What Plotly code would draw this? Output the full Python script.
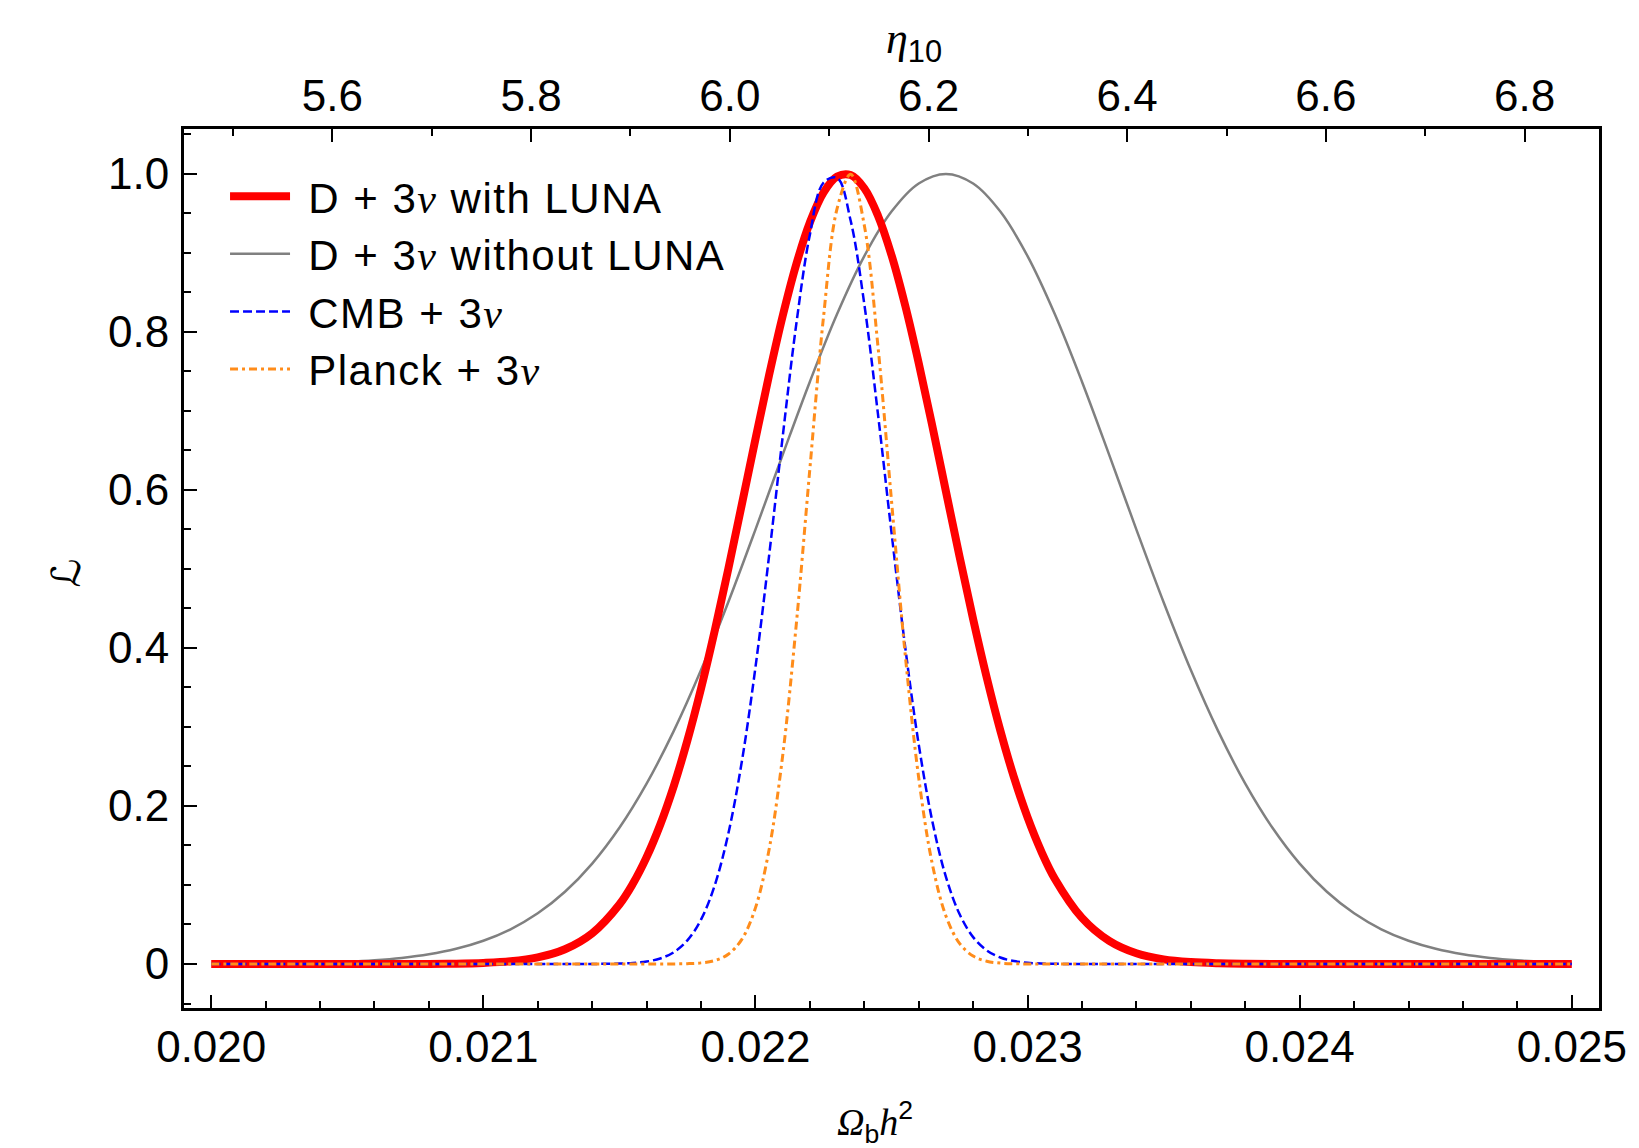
import plotly.graph_objects as go

# ---- data ----------------------------------------------------------------
# D + 3nu with LUNA
OMEGA_LUNA = [
    0.0200, 0.0202, 0.0204, 0.0206, 0.0208, 0.0209, 0.0210, 0.0211, 0.0212, 0.0213,
    0.0214, 0.0215, 0.02155, 0.0216, 0.02165, 0.0217, 0.02175, 0.0218, 0.02185, 0.0219,
    0.02195, 0.0220, 0.02205, 0.0221, 0.02215, 0.0222, 0.02225, 0.0223, 0.02235, 0.0224,
    0.02245, 0.0225, 0.02255, 0.0226, 0.02265, 0.0227, 0.02275, 0.0228, 0.02285, 0.0229,
    0.02295, 0.0230, 0.02305, 0.0231, 0.0232, 0.0233, 0.0234, 0.0235, 0.0236, 0.0237,
    0.0238, 0.0240, 0.0242, 0.0244, 0.0246, 0.0248, 0.0250,
]
L_LUNA = [
    0, 0, 0, 0, 0.0001, 0.0004, 0.0013, 0.0034, 0.0083, 0.0187,
    0.0389, 0.0754, 0.1019, 0.1353, 0.1763, 0.2254, 0.2830, 0.3485, 0.4212, 0.4996,
    0.5817, 0.6643, 0.7451, 0.8200, 0.8855, 0.9385, 0.9763, 0.9966, 0.9985, 0.9818,
    0.9474, 0.8972, 0.8339, 0.7606, 0.6809, 0.5982, 0.5158, 0.4365, 0.3625, 0.2954,
    0.2363, 0.1855, 0.1429, 0.1080, 0.0584, 0.0293, 0.0136, 0.0059, 0.0024, 0.0009,
    0.0003, 0, 0, 0, 0, 0, 0,
]

# D + 3nu without LUNA
OMEGA_NO_LUNA = [
    0.0200, 0.0201, 0.0202, 0.0203, 0.0204, 0.0205, 0.0206, 0.0207, 0.0208, 0.0209,
    0.0210, 0.0211, 0.0212, 0.0213, 0.0214, 0.0215, 0.0216, 0.0217, 0.0218, 0.0219,
    0.0220, 0.0221, 0.0222, 0.0223, 0.0224, 0.0225, 0.0226, 0.0227, 0.0228, 0.0229,
    0.0230, 0.0231, 0.0232, 0.0233, 0.0234, 0.0235, 0.0236, 0.0237, 0.0238, 0.0239,
    0.0240, 0.0241, 0.0242, 0.0243, 0.0244, 0.0245, 0.0246, 0.0247, 0.0248, 0.0249,
    0.0250,
]
L_NO_LUNA = [
    0.0001, 0.0003, 0.0005, 0.0009, 0.0016, 0.0027, 0.0046, 0.0076, 0.0122, 0.0192,
    0.0294, 0.0439, 0.0641, 0.0914, 0.1271, 0.1724, 0.2283, 0.2950, 0.3720, 0.4578,
    0.5498, 0.6444, 0.7370, 0.8226, 0.8959, 0.9523, 0.9879, 1.0000, 0.9879, 0.9523,
    0.8959, 0.8226, 0.7370, 0.6444, 0.5498, 0.4578, 0.3720, 0.2950, 0.2283, 0.1724,
    0.1271, 0.0914, 0.0641, 0.0439, 0.0294, 0.0192, 0.0122, 0.0076, 0.0046, 0.0027,
    0.0016,
]

# CMB + 3nu
OMEGA_CMB = [
    0.0200, 0.0205, 0.0210, 0.0213, 0.02135, 0.0214, 0.02145, 0.0215, 0.02155, 0.0216,
    0.02165, 0.0217, 0.02175, 0.0218, 0.02185, 0.0219, 0.02195, 0.0220, 0.02205, 0.0221,
    0.02215, 0.0222, 0.02225, 0.0223, 0.02235, 0.0224, 0.02245, 0.0225, 0.02255, 0.0226,
    0.02265, 0.0227, 0.02275, 0.0228, 0.02285, 0.0229, 0.02295, 0.0230, 0.02305, 0.0231,
    0.02315, 0.0232, 0.02325, 0.0233, 0.0236, 0.0240, 0.0245, 0.0250,
]
L_CMB = [
    0, 0, 0, 0, 0, 0.0001, 0.0002, 0.0005, 0.0013, 0.0031,
    0.0070, 0.0149, 0.0299, 0.0561, 0.0992, 0.1645, 0.2563, 0.3753, 0.5163, 0.6670,
    0.8096, 0.9231, 0.9888, 0.9950, 0.9406, 0.8353, 0.6968, 0.5461, 0.4020, 0.2780,
    0.1807, 0.1103, 0.0632, 0.0340, 0.0172, 0.0082, 0.0037, 0.0015, 0.0006, 0.0002,
    0.0001, 0, 0, 0, 0, 0, 0, 0,
]

# Planck + 3nu
OMEGA_PLANCK = [
    0.0200, 0.0205, 0.0210, 0.0214, 0.0216, 0.02165, 0.0217, 0.02175, 0.0218, 0.02185,
    0.0219, 0.02195, 0.0220, 0.02205, 0.0221, 0.02215, 0.0222, 0.02225, 0.0223, 0.02235,
    0.0224, 0.02245, 0.0225, 0.02255, 0.0226, 0.02265, 0.0227, 0.02275, 0.0228, 0.02285,
    0.0229, 0.02295, 0.0230, 0.02305, 0.0231, 0.0235, 0.0240, 0.0245, 0.0250,
]
L_PLANCK = [
    0, 0, 0, 0, 0, 0, 0.0001, 0.0004, 0.0014, 0.0043,
    0.0123, 0.0312, 0.0710, 0.1445, 0.2634, 0.4296, 0.6268, 0.8183, 0.9560, 0.9994,
    0.9350, 0.7827, 0.5863, 0.3930, 0.2357, 0.1265, 0.0608, 0.0261, 0.0100, 0.0035,
    0.0011, 0.0003, 0.0001, 0, 0, 0, 0, 0, 0,
]

X_TICKS = [0.020, 0.021, 0.022, 0.023, 0.024, 0.025]
Y_TICKS = [0, 0.2, 0.4, 0.6, 0.8, 1.0]
Y_TICK_TEXT = ["0", "0.2", "0.4", "0.6", "0.8", "1.0"]
ETA_TICKS = [5.6, 5.8, 6.0, 6.2, 6.4, 6.6, 6.8]
ETA_PER_OMEGA = 273.9  # eta_10 = 273.9 * Omega_b h^2

X_RANGE = [0.01990, 0.02510]
Y_RANGE = [-0.0557, 1.0568]

# ---- style -----------------------------------------------------------------
SANS = "Liberation Sans, Arial, Helvetica, sans-serif"
SERIF = "Liberation Serif, Times New Roman, serif"
TICK_FS = 44
LEG_FS = 42
NU = f'<span style="font-family:{SERIF}"><i>ν</i></span>'
PAD = "\u00a0"


def leg(label):
    # slightly widened legend text, like the Mathematica original
    return f'<span style="letter-spacing:1.5px">{PAD}{label}</span>'


AXIS_COMMON = dict(
    showline=True, linecolor="black", linewidth=3,
    ticks="inside", ticklen=13, tickwidth=2, tickcolor="black",
    showgrid=False, zeroline=False,
    tickfont=dict(family=SANS, size=TICK_FS, color="black"),
)
MINOR = dict(ticks="inside", ticklen=7, tickwidth=2, tickcolor="black", showgrid=False)

fig = go.Figure()

fig.add_trace(go.Scatter(
    x=OMEGA_NO_LUNA, y=L_NO_LUNA, mode="lines", name=leg(f"D + 3{NU} without LUNA"),
    line=dict(color="#808080", width=2.5, shape="spline", smoothing=1.0),
    legendrank=2, legendgroup="b",
))
fig.add_trace(go.Scatter(
    x=OMEGA_LUNA, y=L_LUNA, mode="lines", name=leg(f"D + 3{NU} with LUNA"),
    line=dict(color="#FF0000", width=8, shape="spline", smoothing=1.0),
    legendrank=1, legendgroup="a",
))
fig.add_trace(go.Scatter(
    x=OMEGA_CMB, y=L_CMB, mode="lines", name=leg(f"CMB + 3{NU}"),
    line=dict(color="#0000FF", width=2.5, dash="9px,4px", shape="spline", smoothing=1.0),
    legendrank=3, legendgroup="c",
))
fig.add_trace(go.Scatter(
    x=OMEGA_PLANCK, y=L_PLANCK, mode="lines", name=leg(f"Planck + 3{NU}"),
    line=dict(color="#FF8C1A", width=3, dash="8px,4px,3px,4px", shape="spline", smoothing=1.0),
    legendrank=4, legendgroup="d",
))
# carrier for the top eta_10 axis
fig.add_trace(go.Scatter(
    x=[X_RANGE[0] * ETA_PER_OMEGA, X_RANGE[1] * ETA_PER_OMEGA], y=[None, None],
    xaxis="x2", mode="lines", showlegend=False, hoverinfo="skip",
))

fig.update_layout(
    width=1639, height=1148,
    margin=dict(l=184, r=32, t=129, b=140),
    plot_bgcolor="white", paper_bgcolor="white",
    font=dict(family=SANS, size=TICK_FS, color="black"),
    showlegend=True,
    legend=dict(
        x=0.029, y=0.962, xanchor="left", yanchor="top",
        bgcolor="rgba(0,0,0,0)", borderwidth=0,
        font=dict(family=SANS, size=LEG_FS, color="black"),
        itemwidth=60, traceorder="grouped", tracegroupgap=0,
    ),
    xaxis=dict(
        AXIS_COMMON, range=X_RANGE, tickvals=X_TICKS, tickformat=".3f",
        minor=dict(MINOR, dtick=0.0002, tick0=0.02),
        mirror=False, ticklabelstandoff=-2,
    ),
    xaxis2=dict(
        AXIS_COMMON, overlaying="x", side="top", anchor="y",
        range=[X_RANGE[0] * ETA_PER_OMEGA, X_RANGE[1] * ETA_PER_OMEGA],
        tickvals=ETA_TICKS, tickformat=".1f",
        minor=dict(MINOR, dtick=0.1, tick0=5.6),
        ticklabelstandoff=-3,
    ),
    yaxis=dict(
        AXIS_COMMON, range=Y_RANGE, tickvals=Y_TICKS, ticktext=Y_TICK_TEXT,
        minor=dict(MINOR, dtick=0.05, tick0=0),
        mirror=True, ticklabelstandoff=3,
    ),
    annotations=[
        dict(text=f'<span style="font-family:{SERIF}"><i>Ω</i></span><sub>b</sub>'
                  f'<span style="font-family:{SERIF}"><i>h</i></span><sup>2</sup>',
             xref="paper", yref="paper", x=0.488, y=-0.13, showarrow=False,
             xanchor="center", yanchor="middle", font=dict(size=38)),
        dict(text=f'<span style="font-family:{SERIF}"><i>η</i></span><sub>10</sub>',
             xref="paper", yref="paper", x=0.516, y=1.100, showarrow=False,
             xanchor="center", yanchor="middle", font=dict(size=44)),
        dict(text='<span style="font-family:DejaVu Sans"><i>ℒ</i></span>',
             xref="paper", yref="paper", x=-0.0836, y=0.495, showarrow=False,
             xanchor="center", yanchor="middle", textangle=-90, font=dict(size=40)),
    ],
)

fig.write_html("out.html", config={"displayModeBar": False},
               post_script="document.body.style.margin='0';")
